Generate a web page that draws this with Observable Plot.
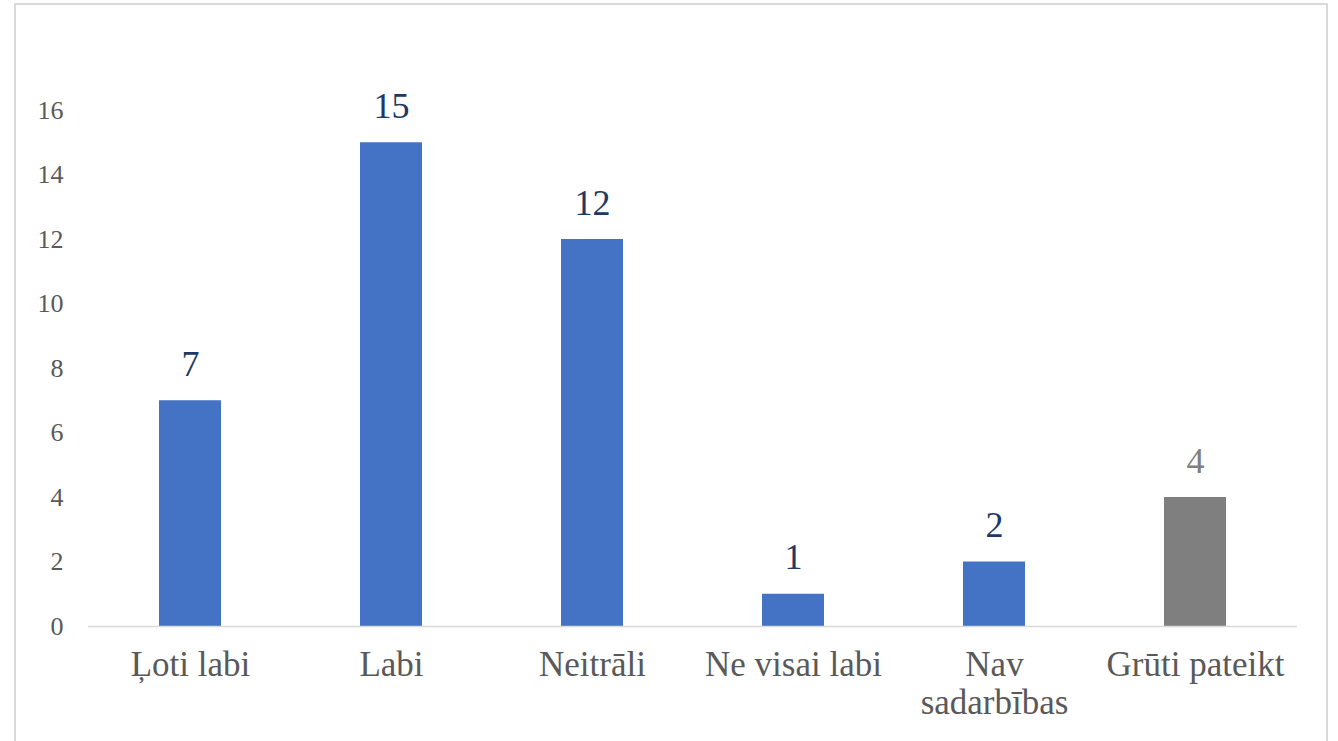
<!DOCTYPE html>
<html>
<head>
<meta charset="utf-8">
<script src="https://cdn.jsdelivr.net/npm/d3@7"></script>
<script src="https://cdn.jsdelivr.net/npm/@observablehq/plot@0.6"></script>
<style>
  html, body { margin: 0; padding: 0; background: #fff; overflow: hidden; }
  #wrap { position: relative; width: 1338px; height: 741px; }
  #border { position: absolute; left: 14px; top: 3px; width: 1314px; height: 760px; border: 2px solid #d9d9d9; box-sizing: border-box; }
  #chart { position: absolute; left: 0; top: 0; }
  #chart svg, #chart svg text { font-family: "Liberation Serif", "Times New Roman", serif !important; }
</style>
</head>
<body>
<div id="wrap"><div id="border"></div><div id="chart"></div></div>
<script>
const categories = ["Ļoti labi", "Labi", "Neitrāli", "Ne visai labi", "Nav\nsadarbības", "Grūti pateikt"];
const values = [7, 15, 12, 1, 2, 4];
const groups = ["answer", "answer", "answer", "answer", "answer", "unsure"];
const yTicks = [0, 2, 4, 6, 8, 10, 12, 14, 16];

const data = categories.map((c, i) => ({category: c, value: values[i], group: groups[i]}));

const font = "Liberation Serif";

const chart = Plot.plot({
  width: 1338,
  height: 741,
  marginLeft: 88,
  marginRight: 41,
  marginTop: 110,
  marginBottom: 115,
  style: {fontFamily: font, background: "transparent", overflow: "visible"},
  x: {domain: categories, paddingInner: 0.692, paddingOuter: 0.346, label: null},
  y: {domain: [0, 16], label: null},
  color: {domain: ["answer", "unsure"], range: ["#4472C4", "#7F7F7F"]},
  marks: [
    Plot.barY(data, {x: "category", y: "value", fill: "group"}),
    Plot.ruleY([0], {stroke: "#d9d9d9", strokeWidth: 1.5}),
    Plot.text(data.filter(d => d.group === "answer"), {x: "category", y: "value", text: d => String(d.value), lineAnchor: "bottom", dy: -25, fontSize: 36, fontFamily: font, fill: "#203864"}),
    Plot.text(data.filter(d => d.group === "unsure"), {x: "category", y: "value", text: d => String(d.value), lineAnchor: "bottom", dy: -25, fontSize: 36, fontFamily: font, fill: "#7F7F7F"}),
    Plot.axisY({ticks: yTicks, tickSize: 0, tickPadding: 25, fontSize: 26, fontFamily: font, color: "#595959", label: null}),
    Plot.axisX({tickSize: 0, tickPadding: 22, fontSize: 35, fontFamily: font, color: "#595959", lineHeight: 1.1, label: null})
  ]
});
document.getElementById("chart").appendChild(chart);
</script>
</body>
</html>
